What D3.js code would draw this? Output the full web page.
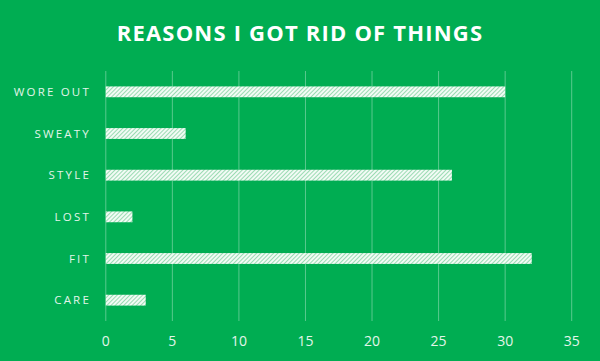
<!DOCTYPE html>
<html><head><meta charset="utf-8">
<script src="https://cdn.jsdelivr.net/npm/d3@7"></script>
<style>body{margin:0;background:#00ad52;}svg{display:block;}</style>
</head><body>
<script>
const categories = ["WORE OUT","SWEATY","STYLE","LOST","FIT","CARE"];
const values = [30,6,26,2,32,3];
const ticks = [0,5,10,15,20,25,30,35];
const title = "REASONS I GOT RID OF THINGS";

const W=600,H=361;
const svg=d3.select("body").append("svg").attr("width",W).attr("height",H);
svg.append("rect").attr("width",W).attr("height",H).attr("fill","#00ad52");
const defs=svg.append("defs");
const pat=defs.append("pattern").attr("id","hatch").attr("patternUnits","userSpaceOnUse")
  .attr("width",3).attr("height",3).attr("patternTransform","rotate(45)");
pat.append("rect").attr("width",3).attr("height",3).attr("fill","#f2fbf5");
pat.append("rect").attr("width",1).attr("height",3).attr("fill","#9bdbb3");

const x=d3.scaleLinear().domain([0,35]).range([105.8,571.7]);
const y=d3.scaleBand().domain(categories).range([71,321]).paddingInner(0.74).paddingOuter(0.37);

svg.append("text").attr("x",300).attr("y",41).attr("text-anchor","middle")
  .attr("fill","#fff").attr("font-family","Open Sans, sans-serif").attr("font-weight","bold")
  .attr("font-size",22).attr("letter-spacing",1.2).text(title);

svg.append("g").selectAll("line").data(ticks).join("line")
  .attr("x1",d=>x(d)).attr("x2",d=>x(d)).attr("y1",71).attr("y2",321)
  .attr("stroke","#ffffff").attr("stroke-opacity",0.35).attr("stroke-width",1);

svg.append("g").selectAll("rect").data(categories).join("rect")
  .attr("x",x(0)).attr("y",d=>y(d)).attr("height",y.bandwidth())
  .attr("width",(d,i)=>x(values[i])-x(0)).attr("fill","url(#hatch)");

svg.append("g").selectAll("text").data(categories).join("text")
  .attr("x",91).attr("y",d=>y(d)+y.bandwidth()/2).attr("dy","0.36em")
  .attr("text-anchor","end").attr("fill","#e3f5ea").attr("font-family","Open Sans, sans-serif")
  .attr("font-size",11.5).attr("letter-spacing",2.2).text(d=>d);

svg.append("g").selectAll("text").data(ticks).join("text")
  .attr("x",d=>x(d)).attr("y",346).attr("text-anchor","middle")
  .attr("fill","#e3f5ea").attr("font-family","Open Sans, sans-serif")
  .attr("font-size",14).text(d=>d);
</script>
</body></html>
